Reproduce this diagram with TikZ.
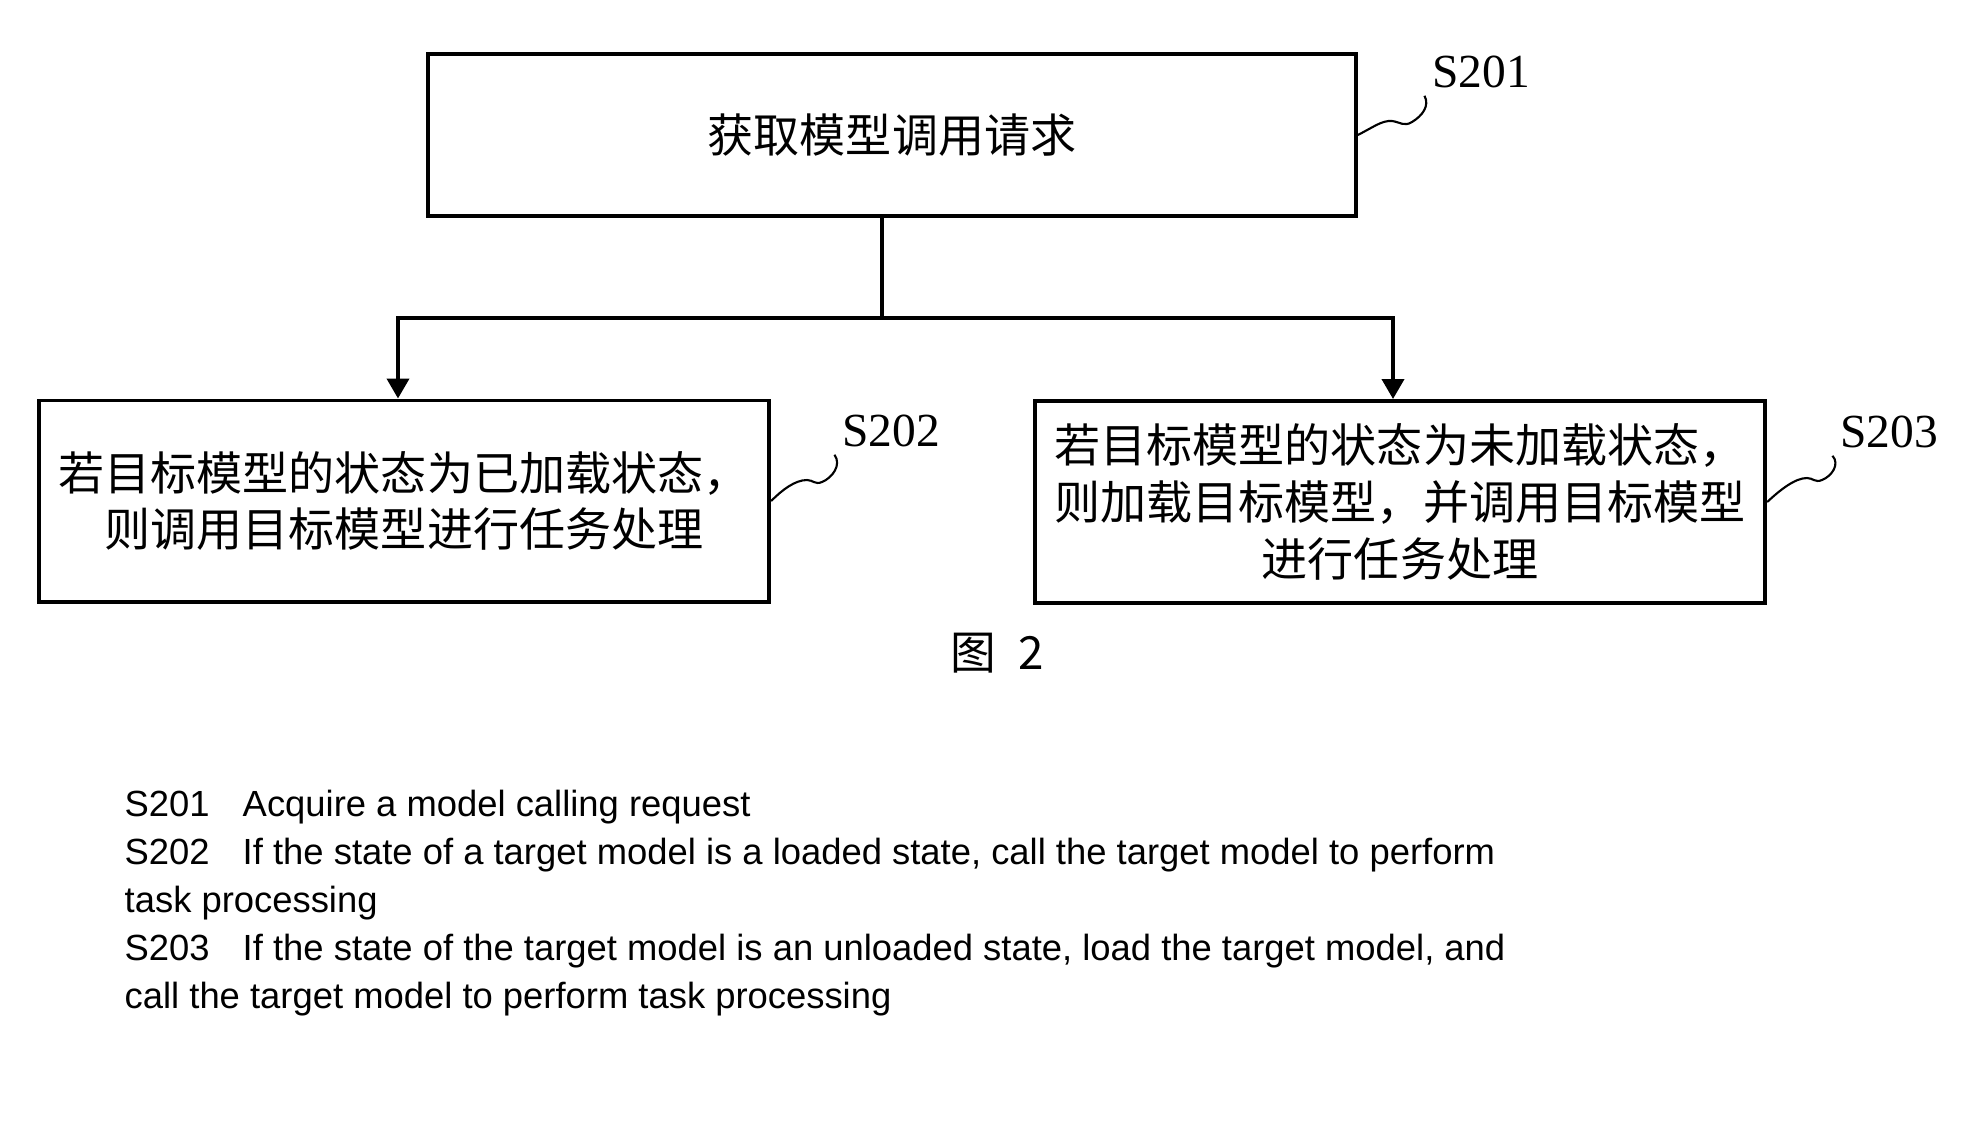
\documentclass[tikz,border=0pt]{standalone}
\usepackage{fontspec}
\setmainfont{Liberation Serif}
\newfontfamily\cjkfont{Noto Sans CJK SC}
\newfontfamily\legendfont{Liberation Sans}
\usetikzlibrary{arrows.meta,positioning,calc}

\tikzset{
	stepbox/.style={draw, line width=1.1pt, align=center, inner sep=0pt,
		font=\cjkfont\fontsize{13.1}{16.2}\selectfont},
	steplabel/.style={inner sep=2pt, font=\fontsize{13.5}{16}\selectfont},
	leader/.style={line width=0.6pt},
	flow/.style={line width=1.1pt, -{Triangle[length=2mm,width=2.2mm]}},
	legend/.style={anchor=base west, inner sep=0pt,
		font=\legendfont\fontsize{10.35}{12}\selectfont}
}

\begin{document}
\begin{tikzpicture}[x=0.01cm, y=-0.01cm]
	\useasboundingbox (0,0) rectangle (1979,1142);

	% boxes
	\node[stepbox, minimum width=9.27cm, minimum height=1.62cm] (request) at (892,135) {获取模型调用请求};
	\node[stepbox, minimum width=7.30cm, minimum height=2.01cm] (loaded) at (404,501) {若目标模型的状态为已加载状态，\\则调用目标模型进行任务处理};
	\node[stepbox, minimum width=7.30cm, minimum height=2.02cm] (unloaded) at (1400,502) {若目标模型的状态为未加载状态，\\则加载目标模型，并调用目标模型\\进行任务处理};

	% connectors
	\coordinate (fork) at (882,318);
	\draw[line width=1.1pt] (request.south -| fork) -- (fork);
	\draw[flow] (fork) -| ([xshift=-0.06cm]loaded.north);
	\draw[flow] (fork) -| ([xshift=-0.07cm]unloaded.north);

	% step labels
	\node[steplabel] (s201) at (1481,72) {S201};
	\node[steplabel] (s202) at (891,431) {S202};
	\node[steplabel] (s203) at (1889,432) {S203};
	\draw[leader] (request.east) .. controls (1372,128) and (1382,120) .. (1392,121)
		.. controls (1400,122) and (1404,127) .. (1412,122)
		.. controls (1422,116) and (1430,106) .. (s201.south west);
	\draw[leader] (loaded.east) .. controls (782,490) and (795,480) .. (807,480)
		.. controls (813,480) and (815,485) .. (822,482)
		.. controls (832,478) and (842,465) .. (s202.south west);
	\draw[leader] (unloaded.east) .. controls (1780,490) and (1795,478) .. (1807,478)
		.. controls (1813,478) and (1815,483) .. (1822,480)
		.. controls (1832,476) and (1840,464) .. (s203.south west);

	% caption
	\node[font=\cjkfont\fontsize{13}{16}\selectfont] (caption) at (997,653) {图\hspace{0.5em}2};

	% legend
	\node[legend] (d201) at (124,816) {\makebox[1.18cm][l]{S201}Acquire a model calling request};
	\node[legend] (d202) at (124,864) {\makebox[1.18cm][l]{S202}If the state of a target model is a loaded state, call the target model to perform};
	\node[legend] (d202b) at (124,912) {task processing};
	\node[legend] (d203) at (124,960) {\makebox[1.18cm][l]{S203}If the state of the target model is an unloaded state, load the target model, and};
	\node[legend] (d203b) at (124,1008) {call the target model to perform task processing};
\end{tikzpicture}
\end{document}
